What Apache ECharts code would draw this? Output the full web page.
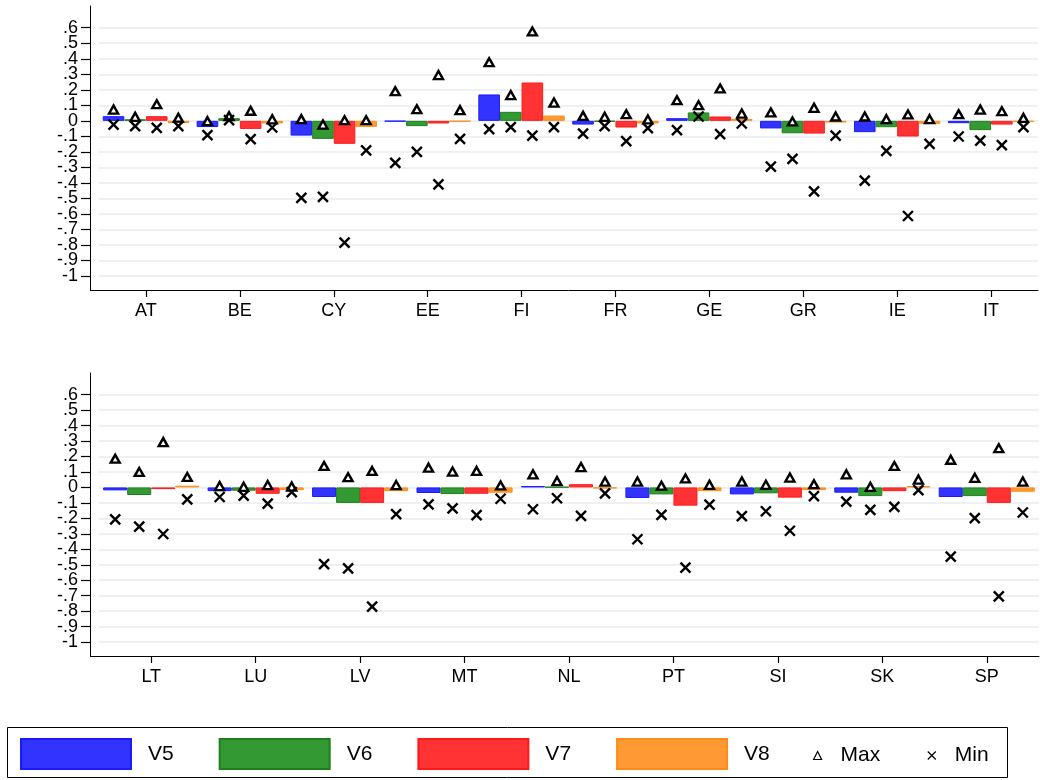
<!DOCTYPE html>
<html>
<head>
<meta charset="utf-8">
<script src="https://cdn.jsdelivr.net/npm/echarts@6/dist/echarts.min.js"></script>
<style>
html,body{margin:0;padding:0;background:#fff;}
#chart{width:1040px;height:780px;}
</style>
</head>
<body>
<div id="chart"></div>
<script>
// ---------- DATA ----------
const seriesNames = ['V5', 'V6', 'V7', 'V8'];
const yTicksA = [-1, -0.8, -0.6, -0.4, -0.2, 0, 0.2, 0.4, 0.6];
const yTicksB = [-0.9, -0.7, -0.5, -0.3, -0.1, 0.1, 0.3, 0.5];

// top panel
const cats1 = ['AT', 'BE', 'CY', 'EE', 'FI', 'FR', 'GE', 'GR', 'IE', 'IT'];
const v5_1 = [0.03, -0.04, -0.095, -0.004, 0.17, -0.024, 0.017, -0.049, -0.073, -0.015];
const v6_1 = [0.01, 0.017, -0.116, -0.034, 0.058, -0.005, 0.054, -0.08, -0.041, -0.06];
const v7_1 = [0.03, -0.052, -0.148, -0.017, 0.247, -0.043, 0.028, -0.082, -0.101, -0.024];
const v8_1 = [-0.015, -0.017, -0.039, -0.005, 0.034, -0.017, 0.012, -0.011, -0.019, -0.006];
const max5_1 = [0.073, -0.002, 0.011, 0.191, 0.378, 0.032, 0.133, 0.054, 0.028, 0.043];
const max6_1 = [0.026, 0.03, -0.024, 0.075, 0.166, 0.026, 0.101, -0.004, 0.011, 0.073];
const max7_1 = [0.107, 0.065, 0.004, 0.295, 0.576, 0.043, 0.209, 0.084, 0.041, 0.062];
const max8_1 = [0.02, 0.01, 0.004, 0.069, 0.118, 0.009, 0.047, 0.028, 0.011, 0.019];
const min5_1 = [-0.024, -0.092, -0.497, -0.271, -0.054, -0.082, -0.06, -0.295, -0.385, -0.101];
const min6_1 = [-0.034, 0.005, -0.49, -0.2, -0.041, -0.034, 0.028, -0.245, -0.194, -0.127];
const min7_1 = [-0.045, -0.118, -0.785, -0.41, -0.095, -0.131, -0.086, -0.454, -0.613, -0.157];
const min8_1 = [-0.034, -0.043, -0.19, -0.116, -0.041, -0.047, -0.017, -0.095, -0.148, -0.041];

// bottom panel
const cats2 = ['LT', 'LU', 'LV', 'MT', 'NL', 'PT', 'SI', 'SK', 'SP'];
const v5_2 = [-0.019, -0.024, -0.062, -0.036, 0.009, -0.068, -0.045, -0.034, -0.062];
const v6_2 = [-0.049, -0.021, -0.1, -0.043, 0.003, -0.045, -0.038, -0.056, -0.056];
const v7_2 = [-0.011, -0.041, -0.1, -0.041, 0.021, -0.118, -0.066, -0.024, -0.1];
const v8_2 = [0.011, -0.017, -0.024, -0.034, -0.006, -0.024, -0.017, 0.008, -0.028];
const max5_2 = [0.186, 0.009, 0.139, 0.128, 0.085, 0.038, 0.038, 0.085, 0.179];
const max6_2 = [0.1, 0.004, 0.066, 0.103, 0.041, 0.011, 0.017, 0.004, 0.062];
const max7_2 = [0.293, 0.015, 0.107, 0.107, 0.132, 0.058, 0.064, 0.139, 0.254];
const max8_2 = [0.068, 0.006, 0.015, 0.013, 0.038, 0.017, 0.021, 0.051, 0.038];
const min5_2 = [-0.207, -0.062, -0.496, -0.109, -0.141, -0.335, -0.186, -0.092, -0.447];
const min6_2 = [-0.254, -0.053, -0.523, -0.135, -0.07, -0.177, -0.154, -0.145, -0.199];
const min7_2 = [-0.301, -0.105, -0.771, -0.179, -0.184, -0.519, -0.28, -0.126, -0.705];
const min8_2 = [-0.077, -0.03, -0.173, -0.073, -0.038, -0.111, -0.056, -0.017, -0.162];

// ---------- STYLE ----------
const fills = ['#3333ff', '#339933', '#ff3333', '#ff9933'];
const borders = ['#1a1aff', '#1f7f1f', '#ff1a1a', '#ff8c1a'];
const catGap = 0.08;
const barFrac = (1 - catGap) / 4;
const FONT = 'Liberation Sans, Arial, sans-serif';
const TICKC = '#000';

function fmt(v) {
  if (Math.abs(v) < 1e-9) return '0';
  let s = String(Math.round(v * 10) / 10);
  return s.replace('0.', '.');
}

const panels = [
  { cats: cats1, vals: [v5_1, v6_1, v7_1, v8_1], maxs: [max5_1, max6_1, max7_1, max8_1], mins: [min5_1, min6_1, min7_1, min8_1] },
  { cats: cats2, vals: [v5_2, v6_2, v7_2, v8_2], maxs: [max5_2, max6_2, max7_2, max8_2], mins: [min5_2, min6_2, min7_2, min8_2] }
];

const grids = [
  { left: 99, right: 2, top: 6, bottom: 490 },
  { left: 99, right: 1, top: 373, bottom: 124 }
];

function yAxisDef(g, ticks, showLine) {
  return {
    type: 'value', gridIndex: g, min: -1.09, max: 0.74, offset: 9, position: 'left',
    axisLine: { show: showLine, onZero: false, lineStyle: { color: '#000', width: 1 } },
    axisTick: { show: true, length: 9, customValues: ticks, lineStyle: { color: TICKC, width: 1.2 } },
    axisLabel: { show: true, color: '#000', fontSize: 18, fontFamily: FONT, margin: 12, customValues: ticks, formatter: fmt },
    splitLine: { show: true, lineStyle: { color: '#e6edf0', width: 1.6 } }
  };
}

const xAxes = [], yAxes = [], series = [];
panels.forEach((p, g) => {
  xAxes.push({
    type: 'category', gridIndex: g, data: p.cats,
    axisLine: { onZero: false, lineStyle: { color: '#000', width: 1 } },
    axisTick: { show: true, alignWithLabel: true, length: 7, lineStyle: { color: TICKC, width: 1.2 } },
    axisLabel: { color: '#000', fontSize: 18, fontFamily: FONT, margin: 12 },
    splitLine: { show: false }
  });
});
// y axes: index g = main (even ticks), index 2+g = companion (odd ticks)
panels.forEach((p, g) => { yAxes.push(yAxisDef(g, yTicksA, true)); });
panels.forEach((p, g) => { yAxes.push(yAxisDef(g, yTicksB, false)); });
// hidden value axes for marker placement (same grids)
panels.forEach((p, g) => {
  xAxes.push({ type: 'value', gridIndex: g, min: -0.5, max: p.cats.length - 0.5, show: false,
               axisLine: { onZero: false }, splitLine: { show: false } });
});

panels.forEach((p, g) => {
  seriesNames.forEach((nm, j) => {
    series.push({
      type: 'bar', name: nm, xAxisIndex: g, yAxisIndex: g,
      data: p.vals[j],
      barGap: '0%', barCategoryGap: (catGap * 100) + '%',
      itemStyle: { color: fills[j], borderColor: borders[j], borderWidth: 1 },
      emphasis: { disabled: true }, z: 2
    });
  });
  const maxPts = [], minPts = [];
  p.cats.forEach((c, i) => {
    for (let j = 0; j < 4; j++) {
      const x = i + (j - 1.5) * barFrac;
      maxPts.push([x, p.maxs[j][i]]);
      minPts.push([x, p.mins[j][i]]);
    }
  });
  series.push({
    type: 'scatter', name: 'Max', xAxisIndex: 2 + g, yAxisIndex: g, data: maxPts,
    symbol: 'triangle', symbolSize: [9, 8],
    itemStyle: { color: '#fff', borderColor: '#000', borderWidth: 2.4, opacity: 1 }, z: 5
  });
  series.push({
    type: 'scatter', name: 'Min', xAxisIndex: 2 + g, yAxisIndex: g, data: minPts,
    symbol: 'path://M0,0L10,10M10,0L0,10', symbolSize: 10,
    itemStyle: { color: 'none', borderColor: '#000', borderWidth: 2.4, opacity: 1 }, z: 5
  });
});

const chart = echarts.init(document.getElementById('chart'), null, { renderer: 'canvas' });
chart.setOption({
  animation: false,
  backgroundColor: '#fff',
  grid: grids,
  xAxis: xAxes,
  yAxis: yAxes,
  legend: [
    {
      data: seriesNames.map(n => ({ name: n, icon: 'rect' })), left: 20, top: 738, padding: 0,
      itemWidth: 110, itemHeight: 30, itemGap: 45,
      selectedMode: false,
      textStyle: { fontSize: 21, fontFamily: FONT, color: '#000', padding: [0, 0, 0, 12] }
    },
    {
      data: ['Max', 'Min'], left: 813, top: 745, padding: 0, itemWidth: 8, itemHeight: 8, itemGap: 45,
      selectedMode: false,
      textStyle: { fontSize: 21, fontFamily: FONT, color: '#000', padding: [0, 0, 0, 14] },
      itemStyle: { borderWidth: 1.2 }
    }
  ],
  graphic: [
    { type: 'rect', shape: { x: 7.5, y: 727.5, width: 1000, height: 50 }, style: { fill: 'none', stroke: '#000', lineWidth: 1 } },
    { type: 'line', shape: { x1: 90, y1: 290.5, x2: 99, y2: 290.5 }, style: { stroke: '#000', lineWidth: 1 } },
    { type: 'line', shape: { x1: 90, y1: 656.5, x2: 99, y2: 656.5 }, style: { stroke: '#000', lineWidth: 1 } }
  ],
  series: series
});
</script>
</body>
</html>
